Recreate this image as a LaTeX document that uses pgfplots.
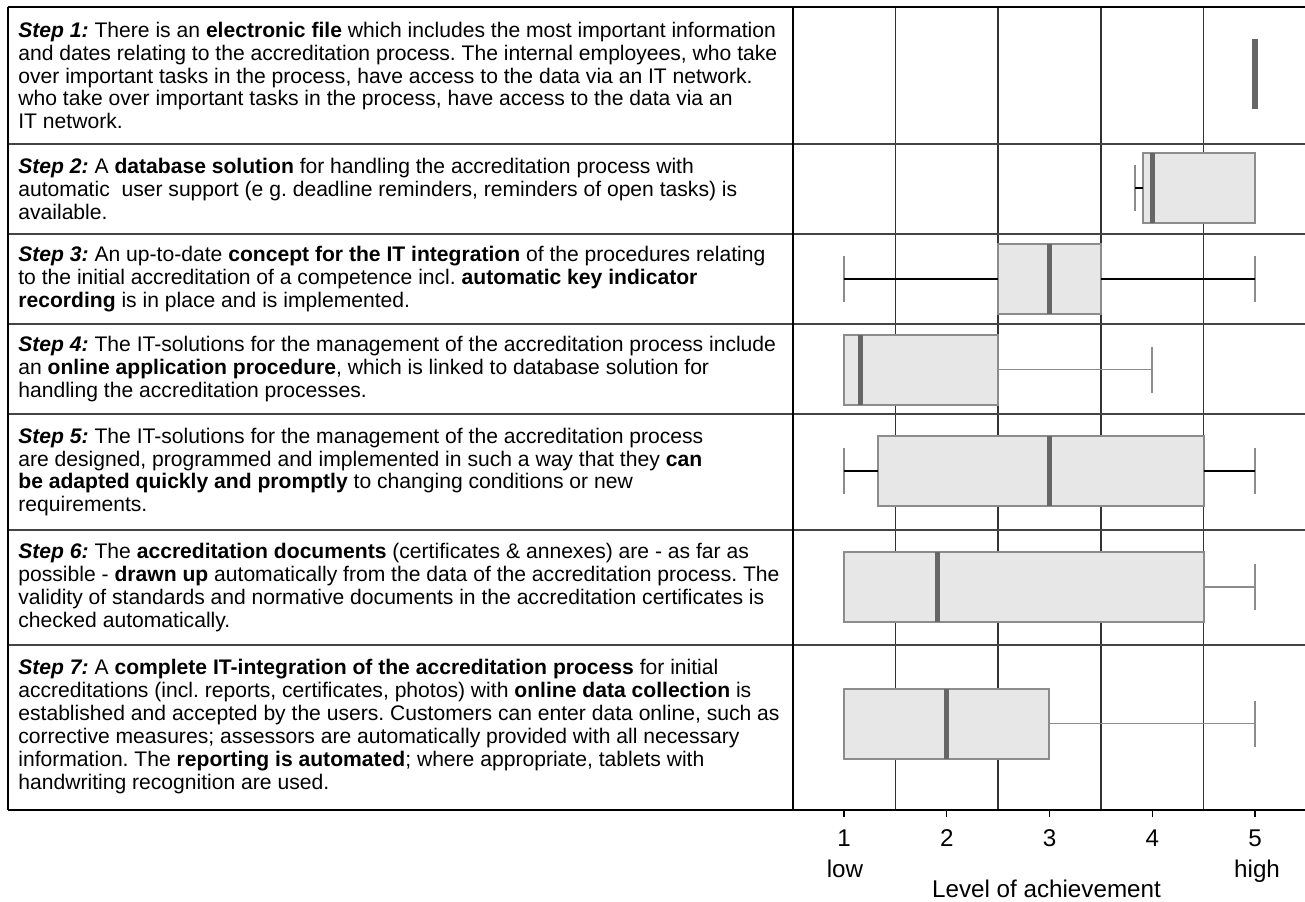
\documentclass[border=0pt]{standalone}
\usepackage{fontspec}
\setmainfont{Liberation Sans}
\usepackage{pgfplots}
\pgfplotsset{compat=1.18}
\usepgfplotslibrary{statistics}

\definecolor{boxfill}{HTML}{E6E7E6}
\definecolor{boxedge}{HTML}{8C8C8C}
\definecolor{medcol}{HTML}{666666}
\definecolor{gridcol}{HTML}{333333}
\definecolor{rowcol}{HTML}{444444}

\newcommand{\st}[1]{\textbf{\textit{#1}}}
\tikzset{textrow/.style={anchor=west, align=left, inner sep=0pt,
        font=\frenchspacing\fontsize{10.55}{11.45}\selectfont}}

\begin{document}
\begin{tikzpicture}
\begin{axis}[
    x=51.375pt, y=0.5pt,
    xmin=0.5036, xmax=5.4866, ymin=91, ymax=894,
    axis line style={draw=none},
    clip=false,
    xtick={1,2,3,4,5},
    xticklabels={1,2,3,4,5},
    xtick pos=left,
    ytick=\empty,
    tick align=outside,
    major tick length=3.5pt,
    every tick/.style={black, line width=0.6pt},
    xticklabel style={font=\fontsize{12.1}{14}\selectfont, anchor=base, yshift=-14.5pt},
    extra x ticks={1.5,2.5,3.5,4.5},
    extra x tick labels={},
    extra x tick style={grid=major, major tick length=0pt},
    major grid style={draw=gridcol, line width=0.65pt},
    boxplot/box extend=70,
    boxplot/whisker extend=46,
    boxplot/every box/.style={draw=boxedge, fill=boxfill, line width=1pt},
    boxplot/every median/.style={draw=medcol, line width=2.6pt},
    boxplot/every whisker/.style={draw=boxedge, line width=0.75pt},
]

% table frame
\draw[rowcol, line width=0.65pt] (axis cs:-7.1363,757) -- (axis cs:5.4866,757);
\draw[rowcol, line width=0.65pt] (axis cs:-7.1363,667) -- (axis cs:5.4866,667);
\draw[rowcol, line width=0.65pt] (axis cs:-7.1363,577) -- (axis cs:5.4866,577);
\draw[rowcol, line width=0.65pt] (axis cs:-7.1363,487) -- (axis cs:5.4866,487);
\draw[rowcol, line width=0.65pt] (axis cs:-7.1363,371) -- (axis cs:5.4866,371);
\draw[rowcol, line width=0.65pt] (axis cs:-7.1363,256) -- (axis cs:5.4866,256);
\draw[black, line width=1.2pt] (axis cs:-7.1363,894) -- (axis cs:5.4866,894);
\draw[black, line width=1.0pt] (axis cs:-7.1363,91) -- (axis cs:5.4866,91);
\draw[black, line width=0.8pt] (axis cs:-7.1363,894) -- (axis cs:-7.1363,91);
\draw[black, line width=0.8pt] (axis cs:0.5036,894) -- (axis cs:0.5036,91);

% step 1
\addplot[boxplot prepared={draw position=826.5,
    lower whisker=5, lower quartile=5, median=5, upper quartile=5, upper whisker=5},
    boxplot/whisker extend=0,
    boxplot/every box/.style={draw=none, fill=none}] coordinates {};
% step 2
\addplot[boxplot prepared={draw position=713,
    lower whisker=3.83, lower quartile=3.91, median=4.0, upper quartile=5, upper whisker=5}]
    coordinates {};
\addplot[boxplot prepared={draw position=713,
    lower whisker=3.83, lower quartile=3.91, median=4.0, upper quartile=5, upper whisker=5},
    boxplot/whisker extend=0,
    boxplot/every box/.style={draw=none, fill=none},
    boxplot/every median/.style={draw=none},
    boxplot/every whisker/.style={draw=black, line width=0.75pt}] coordinates {};
% step 3
\addplot[boxplot prepared={draw position=622,
    lower whisker=1, lower quartile=2.5, median=3, upper quartile=3.5, upper whisker=5}]
    coordinates {};
\addplot[boxplot prepared={draw position=622,
    lower whisker=1, lower quartile=2.5, median=3, upper quartile=3.5, upper whisker=5},
    boxplot/whisker extend=0,
    boxplot/every box/.style={draw=none, fill=none},
    boxplot/every median/.style={draw=none},
    boxplot/every whisker/.style={draw=black, line width=0.75pt}] coordinates {};
% step 4
\addplot[boxplot prepared={draw position=531.5,
    lower whisker=1, lower quartile=1, median=1.16, upper quartile=2.5, upper whisker=4}]
    coordinates {};
% step 5
\addplot[boxplot prepared={draw position=430,
    lower whisker=1, lower quartile=1.33, median=3, upper quartile=4.5, upper whisker=5}]
    coordinates {};
\addplot[boxplot prepared={draw position=430,
    lower whisker=1, lower quartile=1.33, median=3, upper quartile=4.5, upper whisker=5},
    boxplot/whisker extend=0,
    boxplot/every box/.style={draw=none, fill=none},
    boxplot/every median/.style={draw=none},
    boxplot/every whisker/.style={draw=black, line width=0.75pt}] coordinates {};
% step 6
\addplot[boxplot prepared={draw position=314,
    lower whisker=1, lower quartile=1, median=1.91, upper quartile=4.5, upper whisker=5}]
    coordinates {};
% step 7
\addplot[boxplot prepared={draw position=177.5,
    lower whisker=1, lower quartile=1, median=2, upper quartile=3, upper whisker=5}]
    coordinates {};

% row texts
\node[textrow] at (axis cs:-7.0389,825.5) {\st{Step 1:} There is an \textbf{electronic file} which includes the most important information\\
and dates relating to the accreditation process. The internal employees, who take\\
over important tasks in the process, have access to the data via an IT network.\\
who take over important tasks in the process, have access to the data via an\\
IT network.};
\node[textrow] at (axis cs:-7.0389,712) {\st{Step 2:} A \textbf{database solution} for handling the accreditation process with\\
automatic~ user support (e g. deadline reminders, reminders of open tasks) is\\
available.};
\node[textrow] at (axis cs:-7.0389,622) {\st{Step 3:} An up-to-date \textbf{concept for the IT integration} of the procedures relating\\
to the initial accreditation of a competence incl. \textbf{automatic key indicator}\\
\textbf{recording} is in place and is implemented.};
\node[textrow] at (axis cs:-7.0389,532) {\st{Step 4:} The IT-solutions for the management of the accreditation process include\\
an \textbf{online application procedure}, which is linked to database solution for\\
handling the accreditation processes.};
\node[textrow] at (axis cs:-7.0389,429) {\st{Step 5:} The IT-solutions for the management of the accreditation process\\
are designed, programmed and implemented in such a way that they \textbf{can}\\
\textbf{be adapted quickly and promptly} to changing conditions or new\\
requirements.};
\node[textrow] at (axis cs:-7.0389,313.5) {\st{Step 6:} The \textbf{accreditation documents} (certificates \& annexes) are - as far as\\
possible - \textbf{drawn up} automatically from the data of the accreditation process. The\\
validity of standards and normative documents in the accreditation certificates is\\
checked automatically.};
\node[textrow] at (axis cs:-7.0389,174.5) {\st{Step 7:} A \textbf{complete IT-integration of the accreditation process} for initial\\
accreditations (incl. reports, certificates, photos) with \textbf{online data collection} is\\
established and accepted by the users. Customers can enter data online, such as\\
corrective measures; assessors are automatically provided with all necessary\\
information. The \textbf{reporting is automated}; where appropriate, tablets with\\
handwriting recognition are used.};

% axis annotations
\node[anchor=base, font=\fontsize{12.1}{14}\selectfont] at (axis cs:1.01,24) {low};
\node[anchor=base, font=\fontsize{12.1}{14}\selectfont] at (axis cs:5.02,24) {high};
\node[anchor=base, font=\fontsize{12.1}{14}\selectfont] at (axis cs:2.971,4) {Level of achievement};

\coordinate (bbtl) at (axis cs:-7.2141,901);
\coordinate (bbbr) at (axis cs:5.4866,0);
\end{axis}
\pgfresetboundingbox
\path[use as bounding box] (bbtl) rectangle (bbbr);
\end{tikzpicture}
\end{document}
